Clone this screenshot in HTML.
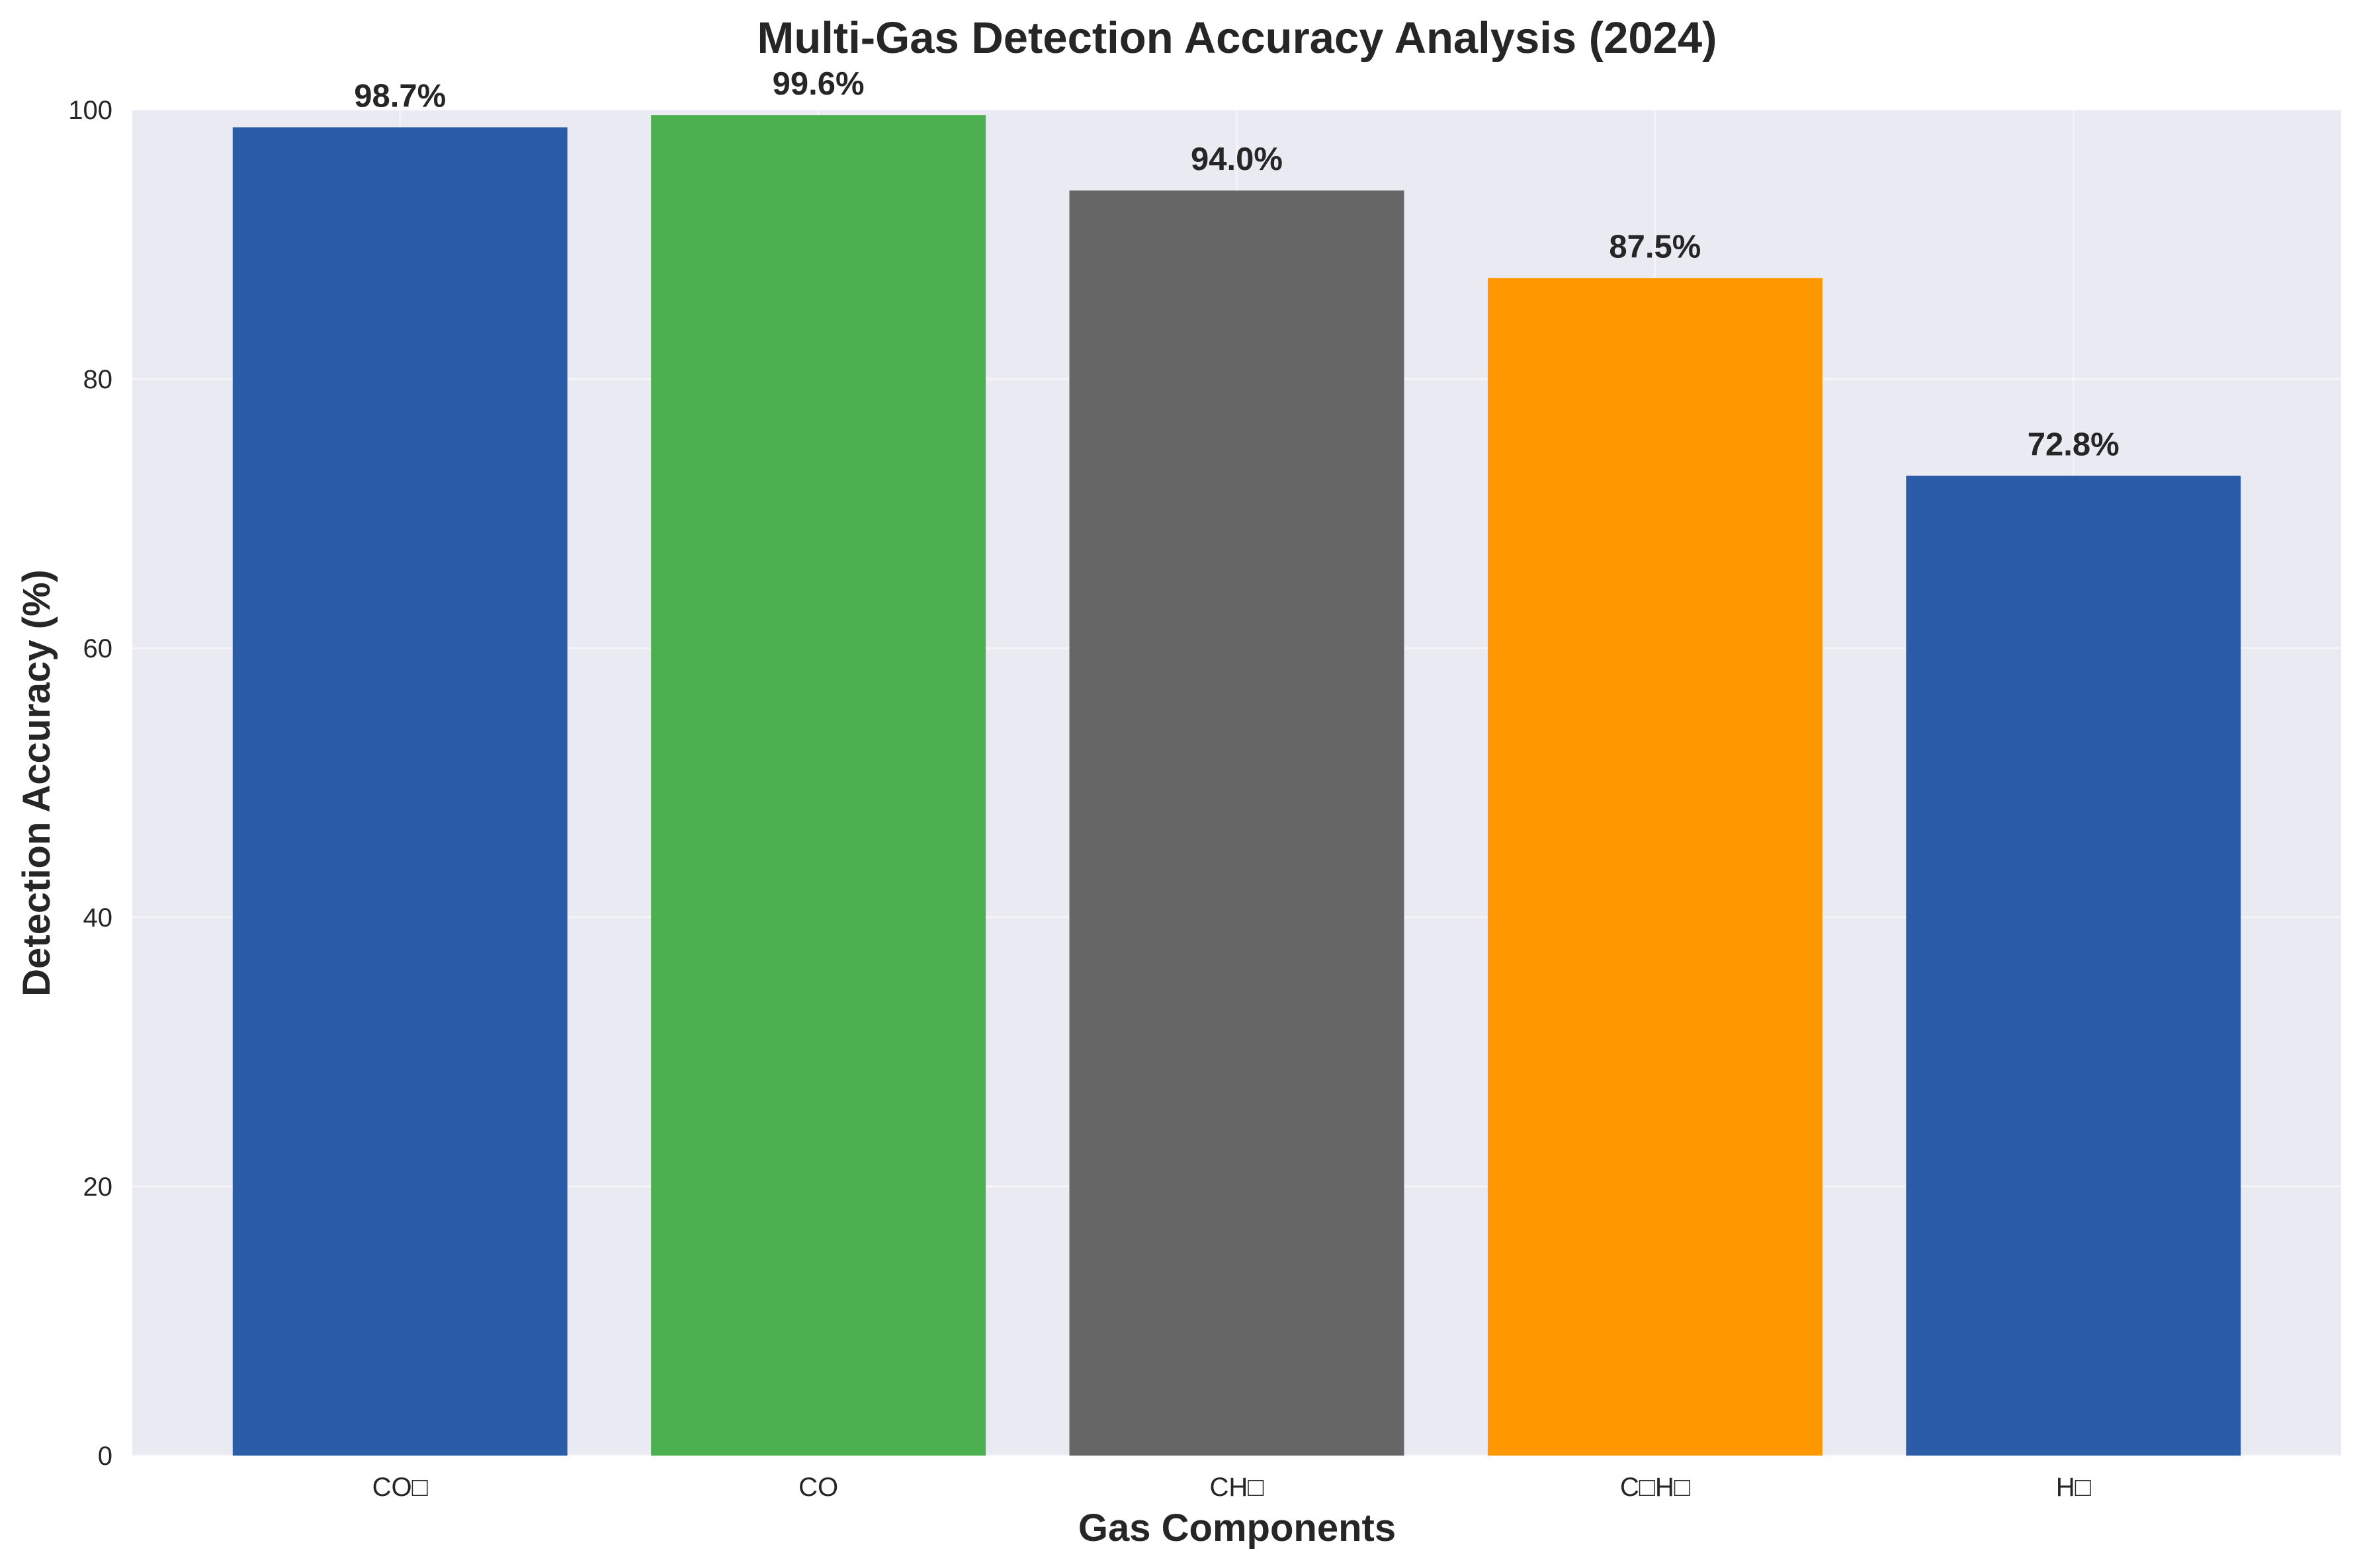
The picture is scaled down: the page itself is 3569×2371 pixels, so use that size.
<!DOCTYPE html>
<html><head><meta charset="utf-8"><style>
html,body{margin:0;padding:0;background:#fff;}
svg{display:block;font-family:"Liberation Sans","DejaVu Sans",sans-serif;}
</style></head><body>
<svg id="chart" width="3569" height="2371" viewBox="0 0 3569 2371" xmlns="http://www.w3.org/2000/svg">
<rect x="0" y="0" width="3569" height="2371" fill="#ffffff"/>
<rect x="200" y="166" width="3339" height="2035" fill="#eaeaf2"/>
<g id="grid"></g>
<g id="bars"></g>
<g id="labels"></g>
<g id="yticks"></g>
<g id="xticks"></g>
<text x="1870" y="80" text-anchor="middle" font-size="67" font-weight="bold" fill="#262626">Multi-Gas Detection Accuracy Analysis (2024)</text>
<text x="1870" y="2330" text-anchor="middle" font-size="58" font-weight="bold" fill="#262626">Gas Components</text>
<text transform="translate(75,1184) rotate(-90)" text-anchor="middle" font-size="58" font-weight="bold" fill="#262626">Detection Accuracy (%)</text>
</svg>
<script>
const categories = ["CO\u25A1", "CO", "CH\u25A1", "C\u25A1H\u25A1", "H\u25A1"];
const values = [98.7, 99.6, 94.0, 87.5, 72.8];
const valueLabels = ["98.7%", "99.6%", "94.0%", "87.5%", "72.8%"];
const colors = ["#2b5ca8", "#4caf50", "#666666", "#ff9800", "#2b5ca8"];
const yTicks = [0, 20, 40, 60, 80, 100];

const NS = "http://www.w3.org/2000/svg";
const L = 200, R = 3539, T = 166, B = 2201;
const xMin = -0.64, xMax = 4.64, yMin = 0, yMax = 100;
function xs(v){ return L + (v - xMin) / (xMax - xMin) * (R - L); }
function ys(v){ return B - (v - yMin) / (yMax - yMin) * (B - T); }
function mk(tag, attrs, parent){
  const el = document.createElementNS(NS, tag);
  for (const k in attrs) el.setAttribute(k, attrs[k]);
  parent.appendChild(el);
  return el;
}
const grid = document.getElementById('grid');
const bars = document.getElementById('bars');
const labels = document.getElementById('labels');
const yt = document.getElementById('yticks');
const xt = document.getElementById('xticks');

yTicks.forEach(t => {
  const g = mk('line', {x1: L, x2: R, y1: ys(t), y2: ys(t), stroke: '#ffffff', 'stroke-width': 3, opacity: 0.5}, grid);
  
  
  const tx = mk('text', {x: 170, y: ys(t) + 14, 'text-anchor': 'end', 'font-size': 40, fill: '#262626'}, yt);
  tx.textContent = t;
  
  
});
categories.forEach((c, i) => {
  const g = mk('line', {x1: xs(i), x2: xs(i), y1: T, y2: B, stroke: '#ffffff', 'stroke-width': 3, opacity: 0.5}, grid);
  
  
  const w = 0.8 * (xs(1) - xs(0));
  const r = mk('rect', {x: xs(i) - w / 2, y: ys(values[i]), width: w, height: ys(0) - ys(values[i]), fill: colors[i]}, bars);
  
  
  const lb = mk('text', {x: xs(i), y: ys(values[i]) - 31, 'text-anchor': 'middle', 'font-size': 49, 'font-weight': 'bold', fill: '#262626'}, labels);
  lb.textContent = valueLabels[i];
  
  
  const tx = mk('text', {x: xs(i), y: 2262, 'text-anchor': 'middle', 'font-size': 40, fill: '#262626'}, xt);
  tx.textContent = c;
  
  
});
</script>
</body></html>
